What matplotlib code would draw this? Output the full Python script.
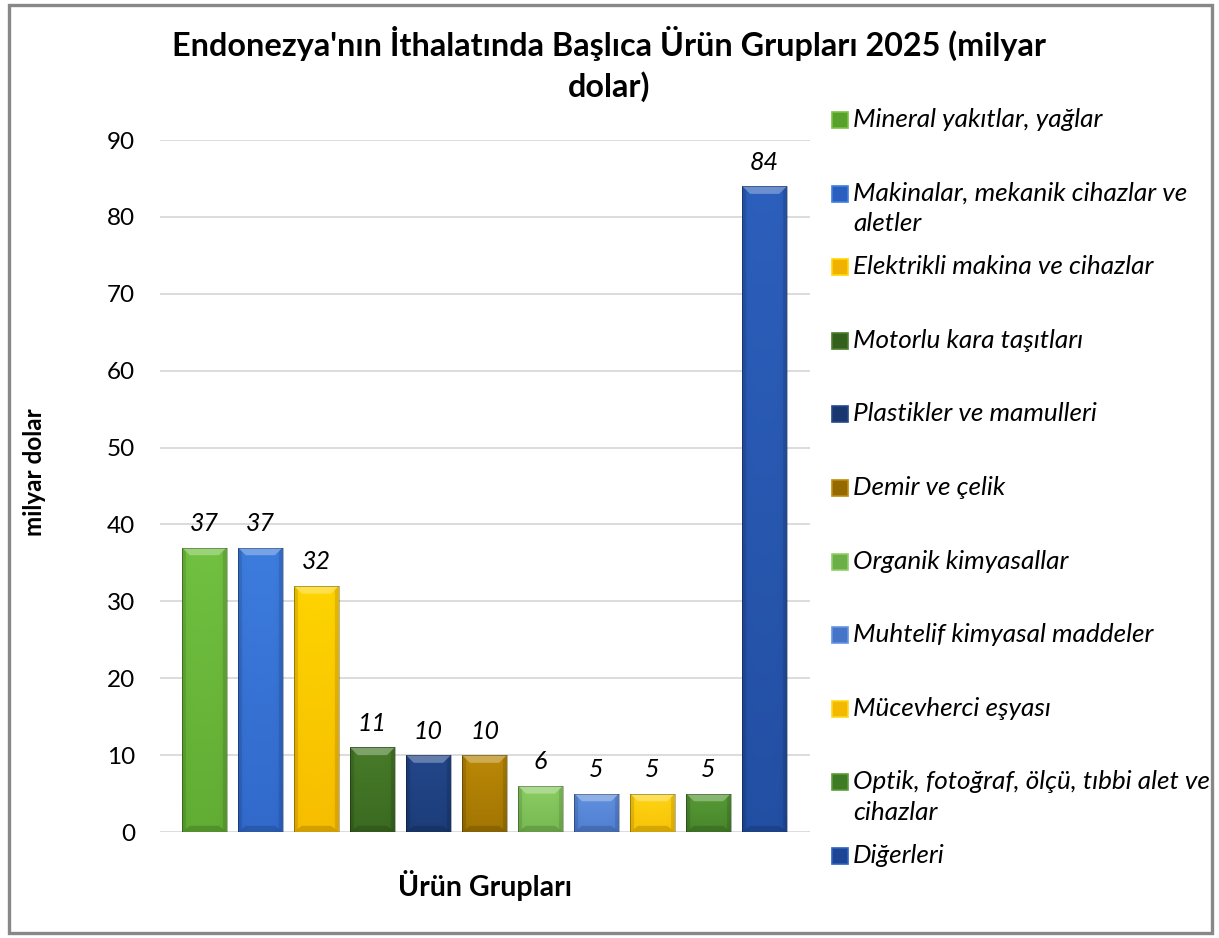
import numpy as np
import matplotlib
matplotlib.use("Agg")
import matplotlib.pyplot as plt
from matplotlib.patches import Rectangle, Polygon
from matplotlib.colors import LinearSegmentedColormap

plt.rcParams['font.family'] = ['Lato', 'DejaVu Sans']

# veriler
urunler = [
    "Mineral yakıtlar, yağlar",
    "Makinalar, mekanik cihazlar ve\naletler",
    "Elektrikli makina ve cihazlar",
    "Motorlu kara taşıtları",
    "Plastikler ve mamulleri",
    "Demir ve çelik",
    "Organik kimyasallar",
    "Muhtelif kimyasal maddeler",
    "Mücevherci eşyası",
    "Optik, fotoğraf, ölçü, tıbbi alet ve\ncihazlar",
    "Diğerleri",
]
degerler = [37, 37, 32, 11, 10, 10, 6, 5, 5, 5, 84]
# (açık ton, koyu ton)
renkler = [
    ("#74c443", "#58a02c"),
    ("#3f7fe0", "#2a5fc0"),
    ("#ffd800", "#f2b000"),
    ("#4a7e2a", "#33601c"),
    ("#24498e", "#19366e"),
    ("#bf8c08", "#946a00"),
    ("#8fd066", "#6caf48"),
    ("#6594e2", "#4674c8"),
    ("#ffd816", "#f4b800"),
    ("#5a9e38", "#3f7a24"),
    ("#2e62c0", "#1d4594"),
]

fig = plt.figure(figsize=(12.19, 9.38), dpi=100)
ax = fig.add_axes([0.1313, 0.113, 0.5332, 0.7377])

x = np.arange(len(degerler))
genislik = 0.8
cubuklar = ax.bar(x, degerler, genislik, color=[r[1] for r in renkler], zorder=2)

# cubuklara egimli gorunum ver
for rect, (acik, koyu), v in zip(cubuklar, renkler, degerler):
    x0 = rect.get_x()
    x1 = x0 + rect.get_width()
    cmap = LinearSegmentedColormap.from_list("g", [koyu, acik])
    yy = np.linspace(0, 1, 60)[:, None]
    xx = np.linspace(-1, 1, 40)[None, :]
    z = 0.35 + 0.55 * yy - 0.25 * np.abs(xx) ** 6
    im = ax.imshow(z, extent=[x0, x1, 0, v], origin="lower", aspect="auto",
                   cmap=cmap, vmin=0, vmax=1, zorder=2.1)
    im.set_clip_path(rect)
    dx, dy = 0.14, 1.0
    ax.add_patch(Polygon([(x0, v), (x1, v), (x1 - dx, v - dy), (x0 + dx, v - dy)],
                         closed=True, color="white", alpha=0.3, lw=0, zorder=2.2))
    ax.add_patch(Polygon([(x0, 0), (x1, 0), (x1 - dx, dy * 0.8), (x0 + dx, dy * 0.8)],
                         closed=True, color="black", alpha=0.15, lw=0, zorder=2.2))
    for xa, xb in [(x0, x0 + dx * 0.5), (x1, x1 - dx * 0.5)]:
        ax.add_patch(Polygon([(xa, 0), (xa, v), (xb, v - dy * 0.5), (xb, dy * 0.4)],
                             closed=True, color="black", alpha=0.1, lw=0, zorder=2.2))
    ax.add_patch(Rectangle((x0, 0), x1 - x0, v, fill=False, ec="black", lw=0.6,
                           alpha=0.35, zorder=2.3))
    ax.annotate(str(v), (rect.get_x() + rect.get_width() / 2, v), xytext=(0, 9),
                textcoords="offset points", ha="center", va="bottom",
                fontsize=18, fontstyle="italic")

ax.set_xlim(-0.79, 10.81)
ax.set_ylim(0, 90)
ax.set_yticks(range(0, 91, 10))
ax.set_xticks([])
ax.tick_params(axis="y", length=0, pad=18, labelsize=17.5)
ax.grid(axis="y", color="#d9d9d9", lw=1.3, zorder=0)
ax.set_axisbelow(True)
for s in ax.spines.values():
    s.set_visible(False)

W, H = 1219, 938
fig.text(35 / W, 1 - 472 / H, "milyar dolar", rotation=90, ha="center", va="center",
         fontsize=17.5, fontweight="bold")
ax.text(0.5, -0.0766, "Ürün Grupları", transform=ax.transAxes, ha="center", va="center",
        fontsize=20.5, fontweight="bold")

fig.text(0.5, 1 - 26 / H, "Endonezya'nın İthalatında Başlıca Ürün Grupları 2025 (milyar\ndolar)",
         ha="center", va="top", fontsize=23.3, fontweight="bold", linespacing=1.4)

# lejant
for i, (ad, (acik, koyu)) in enumerate(zip(urunler, renkler)):
    yc = 120 + i * 73.6
    fig.patches.append(Rectangle((832 / W, 1 - (yc + 8) / H), 16 / W, 16 / H,
                                 transform=fig.transFigure, facecolor=koyu,
                                 edgecolor=acik, lw=1.2))
    fig.text(853 / W, 1 - (yc - 12) / H, ad, ha="left", va="top",
             fontsize=18.8, fontstyle="italic", linespacing=1.38)

# cerceve
fig.patches.append(Rectangle((9 / W, 5 / H), 1203 / W, 928 / H, transform=fig.transFigure,
                             fill=False, ec="#888888", lw=2.4))

fig.savefig("out.png", dpi=100)
